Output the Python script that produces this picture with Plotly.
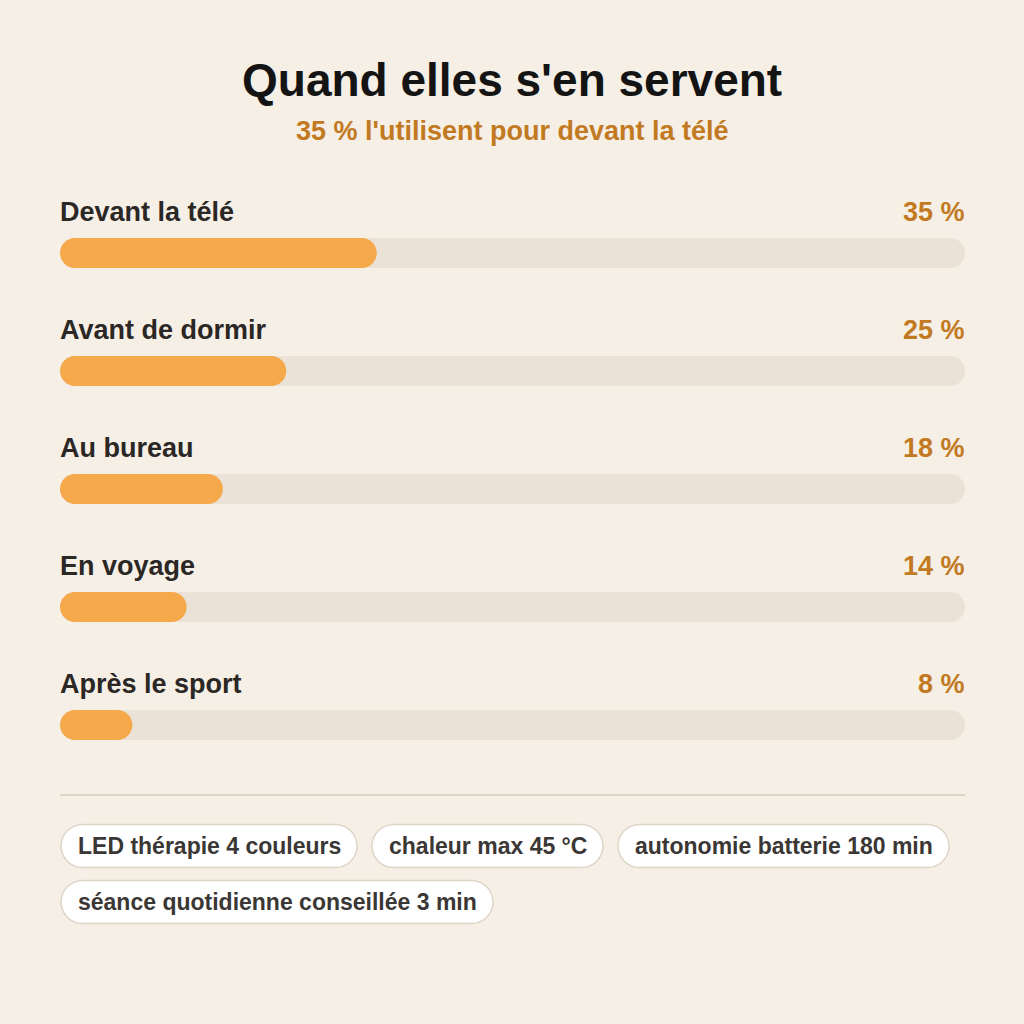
import plotly.graph_objects as go

# %% data
categories = ["Devant la télé", "Avant de dormir", "Au bureau", "En voyage", "Après le sport"]
shares = [35, 25, 18, 14, 8]
value_labels = [f"{v} %" for v in shares]
title_text = "Quand elles s'en servent"
subtitle_text = "35 % l'utilisent pour devant la télé"
pills = ["LED thérapie 4 couleurs", "chaleur max 45 °C",
         "autonomie batterie 180 min", "séance quotidienne conseillée 3 min"]

# %% layout constants (pixels)
W = H = 1024
X0_PX, X1_PX = 60, 965
BG = "#F6EFE6"
TRACK = "#EAE2D7"
FILL = "#F5A94B"
ACCENT = "#C27A22"
FONT = "Liberation Sans, Arial, sans-serif"

row_top = 212          # label centre of first row
row_step = 118
bar_offset = 41        # label centre -> bar centre
bar_h = 30

# pill layout: (x0, x1, y centre)
pill_boxes = [(61, 357, 846), (372, 603, 846), (618, 949, 846), (61, 493, 902)]
pill_h = 43

px_per_unit = (X1_PX - X0_PX) / 100.0


def pill_path(xa, xb, yc, h, rx):
    """rounded bar path: x in axis/paper units, y in pixels"""
    r = h / 2
    k = 0.5523
    y0, y1 = yc - r, yc + r
    return (f"M {xa + rx},{y0} L {xb - rx},{y0} "
            f"C {xb - rx + k * rx},{y0} {xb},{yc - k * r} {xb},{yc} "
            f"C {xb},{yc + k * r} {xb - rx + k * rx},{y1} {xb - rx},{y1} "
            f"L {xa + rx},{y1} "
            f"C {xa + rx - k * rx},{y1} {xa},{yc + k * r} {xa},{yc} "
            f"C {xa},{yc - k * r} {xa + rx - k * rx},{y0} {xa + rx},{y0} Z")


fig = go.Figure()
shapes = []
annotations = []

rx = (bar_h / 2) / px_per_unit
for i, (cat, val, lab) in enumerate(zip(categories, shares, value_labels)):
    yl = row_top + i * row_step
    yb = yl + bar_offset
    shapes.append(dict(type="path", xref="x", yref="y", path=pill_path(0, 100, yb, bar_h, rx),
                       fillcolor=TRACK, line=dict(width=0), layer="below"))
    shapes.append(dict(type="path", xref="x", yref="y", path=pill_path(0, val, yb, bar_h, rx),
                       fillcolor=FILL, line=dict(width=0), layer="below"))
    annotations.append(dict(x=0, y=yl, xref="x", yref="y", text=f"<b>{cat}</b>", showarrow=False,
                            xanchor="left", yanchor="middle", xshift=-2,
                            font=dict(family=FONT, size=27, color="#2A2725")))
    annotations.append(dict(x=100, y=yl, xref="x", yref="y", text=f"<b>{lab}</b>", showarrow=False,
                            xanchor="right", yanchor="middle", xshift=2,
                            font=dict(family=FONT, size=27, color=ACCENT)))

# divider
shapes.append(dict(type="line", xref="paper", yref="y", x0=X0_PX / W, x1=X1_PX / W, y0=795, y1=795,
                   line=dict(color="#DDD5CA", width=2)))

# pills
for text, (xa, xb, yc) in zip(pills, pill_boxes):
    pr = (pill_h / 2) / W
    shapes.append(dict(type="path", xref="paper", yref="y",
                       path=pill_path(xa / W, xb / W, yc, pill_h, pr),
                       fillcolor="white", line=dict(color="#DDD6C8", width=1.5)))
    annotations.append(dict(x=(xa + xb) / 2 / W, y=yc, xref="paper", yref="y", text=f"<b>{text}</b>",
                            showarrow=False, xanchor="center", yanchor="middle",
                            font=dict(family=FONT, size=23, color="#3A3735")))

# title / subtitle
annotations.append(dict(x=0.5, y=80, xref="paper", yref="y", text=f"<b>{title_text}</b>", showarrow=False,
                        xanchor="center", yanchor="middle", font=dict(family=FONT, size=46, color="#141414")))
annotations.append(dict(x=0.5, y=131, xref="paper", yref="y", text=f"<b>{subtitle_text}</b>", showarrow=False,
                        xanchor="center", yanchor="middle", font=dict(family=FONT, size=27, color=ACCENT)))

fig.update_layout(
    width=W, height=H,
    margin=dict(l=0, r=0, t=0, b=0),
    paper_bgcolor=BG, plot_bgcolor=BG,
    showlegend=False,
    xaxis=dict(domain=[X0_PX / W, X1_PX / W], range=[0, 100], visible=False, fixedrange=True),
    yaxis=dict(domain=[0, 1], range=[H, 0], visible=False, fixedrange=True),
    shapes=shapes,
    annotations=annotations,
)

fig.write_html("out.html", config={"displayModeBar": False},
               post_script="document.body.style.margin='0';document.body.style.background='%s';" % BG)
